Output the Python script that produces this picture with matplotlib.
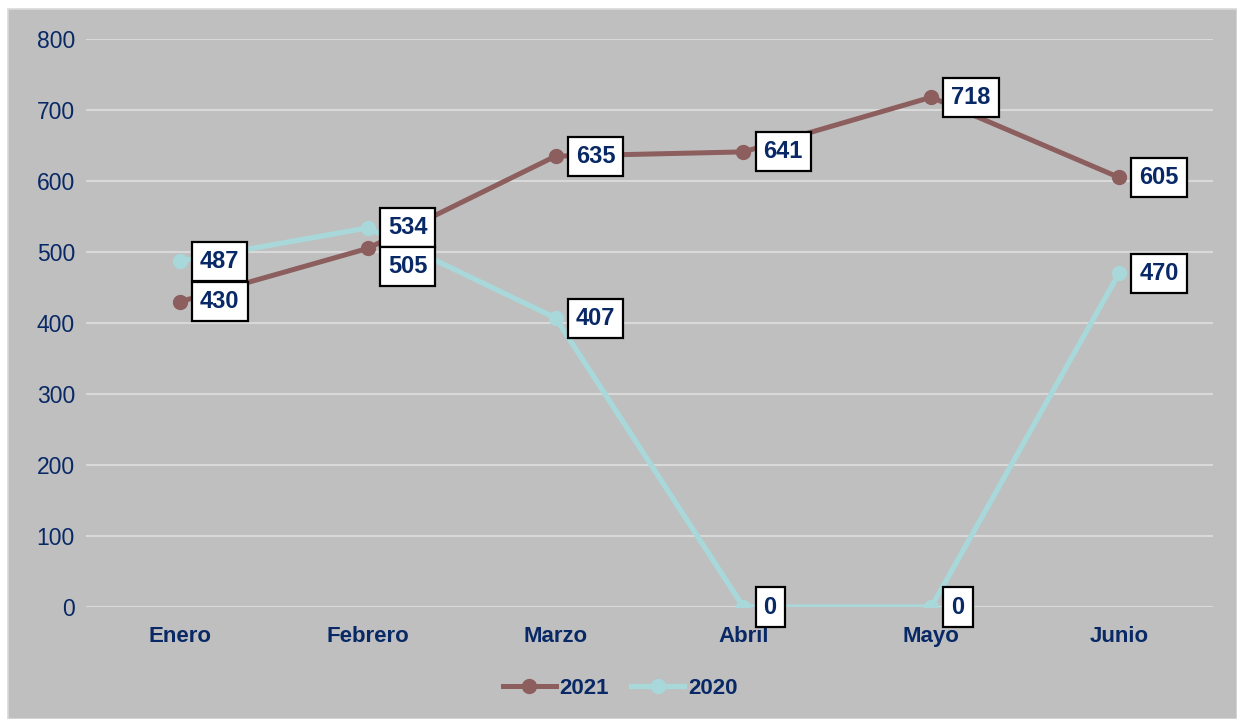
import matplotlib
matplotlib.use("Agg")
import matplotlib.pyplot as plt
from matplotlib.patches import Rectangle

plt.rcParams['font.family'] = ['Liberation Sans', 'DejaVu Sans']

months = ["Enero", "Febrero", "Marzo", "Abril", "Mayo", "Junio"]
v2021 = [430, 505, 635, 641, 718, 605]
v2020 = [487, 534, 407, 0, 0, 470]
yticks = [0, 100, 200, 300, 400, 500, 600, 700, 800]

NAVY = "#082866"
C2021 = "#8C5E5E"
C2020 = "#A8D8DA"
BG = "#BFBFBF"

W, H = 1237, 719
fig = plt.figure(figsize=(W / 100, H / 100), dpi=100, facecolor="white")
fig.patches.append(Rectangle((8 / W, 0), 1 - 8 / W, 1 - 9 / H, transform=fig.transFigure,
                             facecolor=BG, edgecolor="#D9D9D9", linewidth=1.2, zorder=-10))

ax = fig.add_axes([86 / W, 1 - 607 / H, (1213 - 86) / W, (607 - 39) / H])
ax.set_facecolor("none")
x = list(range(len(months)))
ax.set_xlim(-0.5, len(months) - 0.5)
ax.set_ylim(0, 800)
ax.set_yticks(yticks)
ax.set_xticks(x)
ax.set_xticklabels(months, fontsize=16, fontweight="bold", color=NAVY)
ax.set_yticklabels([str(t) for t in yticks], fontsize=16.5, color=NAVY)
ax.tick_params(axis="x", length=0, pad=14)
ax.tick_params(axis="y", length=0, pad=8)
for s in ax.spines.values():
    s.set_visible(False)
ax.grid(axis="y", color="#D9D9D9", linewidth=1.5, zorder=0)
ax.set_axisbelow(True)

ax.plot(x, v2021, color=C2021, lw=3.6, marker="o", ms=10, label="2021", zorder=3)
ax.plot(x, v2020, color=C2020, lw=3.8, marker="o", ms=10, label="2020", zorder=2)

bbox = dict(boxstyle="square,pad=0.34", facecolor="white", edgecolor="black", linewidth=1.6)

def label(xi, yi, dy=0):
    ax.annotate(str(yi), (xi, yi), xytext=(14.5, dy), textcoords="offset points",
                ha="left", va="center", fontsize=17, fontweight="bold", color=NAVY,
                bbox=bbox, zorder=5)

for i, v in enumerate(v2020):
    label(i, v)
for i, v in enumerate(v2021):
    label(i, v, dy=-13 if i == 1 else 0)

leg = ax.legend(loc="center", bbox_to_anchor=(620 / W, 1 - 688 / H), bbox_transform=fig.transFigure,
                ncol=2, frameon=False, handlelength=2.4, handletextpad=0.15, columnspacing=1.0,
                prop={"size": 16, "weight": "bold"})
for t in leg.get_texts():
    t.set_color(NAVY)

fig.savefig("out.png", dpi=100, facecolor="white")
